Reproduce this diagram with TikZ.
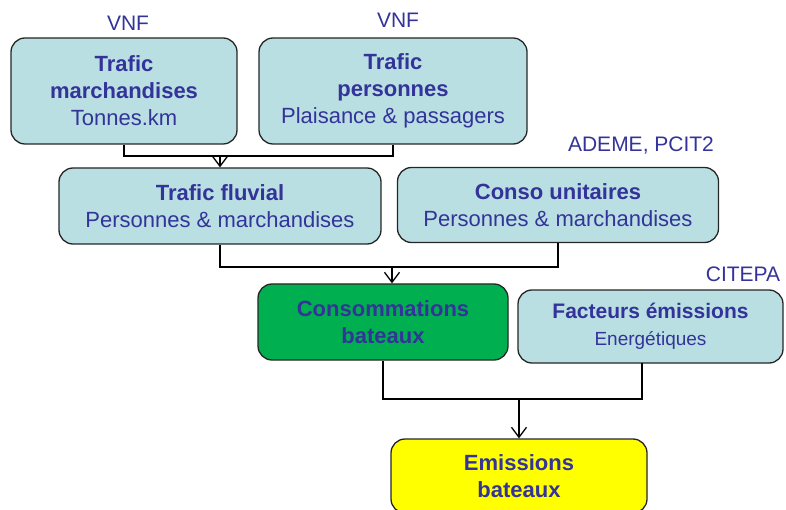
\documentclass[tikz,border=0pt]{standalone}
\usepackage{fontspec}
\setmainfont{Liberation Sans}
\usetikzlibrary{arrows.meta}
\definecolor{txtblue}{HTML}{333399}
\definecolor{boxcyan}{HTML}{B9DFE2}
\definecolor{boxgreen}{HTML}{00B050}
\definecolor{boxyellow}{HTML}{FFFF00}
\tikzset{
  box/.style={draw=black!85, line width=1.3pt, rounded corners=14pt, fill=boxcyan,
    text=txtblue, align=center, inner sep=0pt, font=\fontsize{22}{27}\selectfont},
  src/.style={text=txtblue, inner sep=0pt, font=\fontsize{21}{25}\selectfont},
  conn/.style={draw=black, line width=1.2pt},
  arr/.style={conn, -{Straight Barb[length=10pt,width=15pt,line width=1.3pt]}}
}
\begin{document}
\begin{tikzpicture}[x=1pt,y=-1pt]
\useasboundingbox (0,0) rectangle (786,510);
\node[box, minimum width=226pt, minimum height=106pt] (b1) at (124,91)
  {\textbf{Trafic}\\\textbf{marchandises}\\Tonnes.km};
\node[box, minimum width=268pt, minimum height=106pt] (b2) at (393,91)
  {\textbf{Trafic}\\\textbf{personnes}\\Plaisance \& passagers};
\node[box, minimum width=322pt, minimum height=76pt] (b3) at (220,206)
  {\textbf{Trafic fluvial}\\Personnes \& marchandises};
\node[box, minimum width=321pt, minimum height=75pt] (b4) at (558,205)
  {\textbf{Conso unitaires}\\Personnes \& marchandises};
\node[box, fill=boxgreen, minimum width=250pt, minimum height=76pt] (b5) at (383,322)
  {\textbf{Consommations}\\\textbf{bateaux}};
\node[box, minimum width=265pt, minimum height=73pt] (b6) at (650.5,326.5)
  {\textbf{\fontsize{21}{26}\selectfont Facteurs émissions}\\{\fontsize{19}{23}\selectfont Energétiques}};
\node[box, fill=boxyellow, minimum width=256pt, minimum height=74pt] (b7) at (519,476)
  {\textbf{Emissions}\\\textbf{bateaux}};

\node[src] (s1) at (128,23) {VNF};
\node[src] (s2) at (398,20) {VNF};
\node[src] (s3) at (641,146) {ADEME, PCIT2};
\node[src] (s4) at (743,274) {CITEPA};

\coordinate (j1) at (220,156);
\coordinate (j2) at (392,267);
\coordinate (j3) at (519,399);
\coordinate (d6) at (642,363);

\draw[conn] (b1.south) |- (j1) -| (b2.south);
\draw[arr] (j1) -- (b3.north);
\draw[conn] (b3.south) |- (j2) -| (b4.south);
\draw[arr] (j2) -- (b5.north -| j2);
\draw[conn] (b5.south) |- (j3) -| (d6);
\draw[arr] (j3) -- (b7.north);
\end{tikzpicture}
\end{document}
